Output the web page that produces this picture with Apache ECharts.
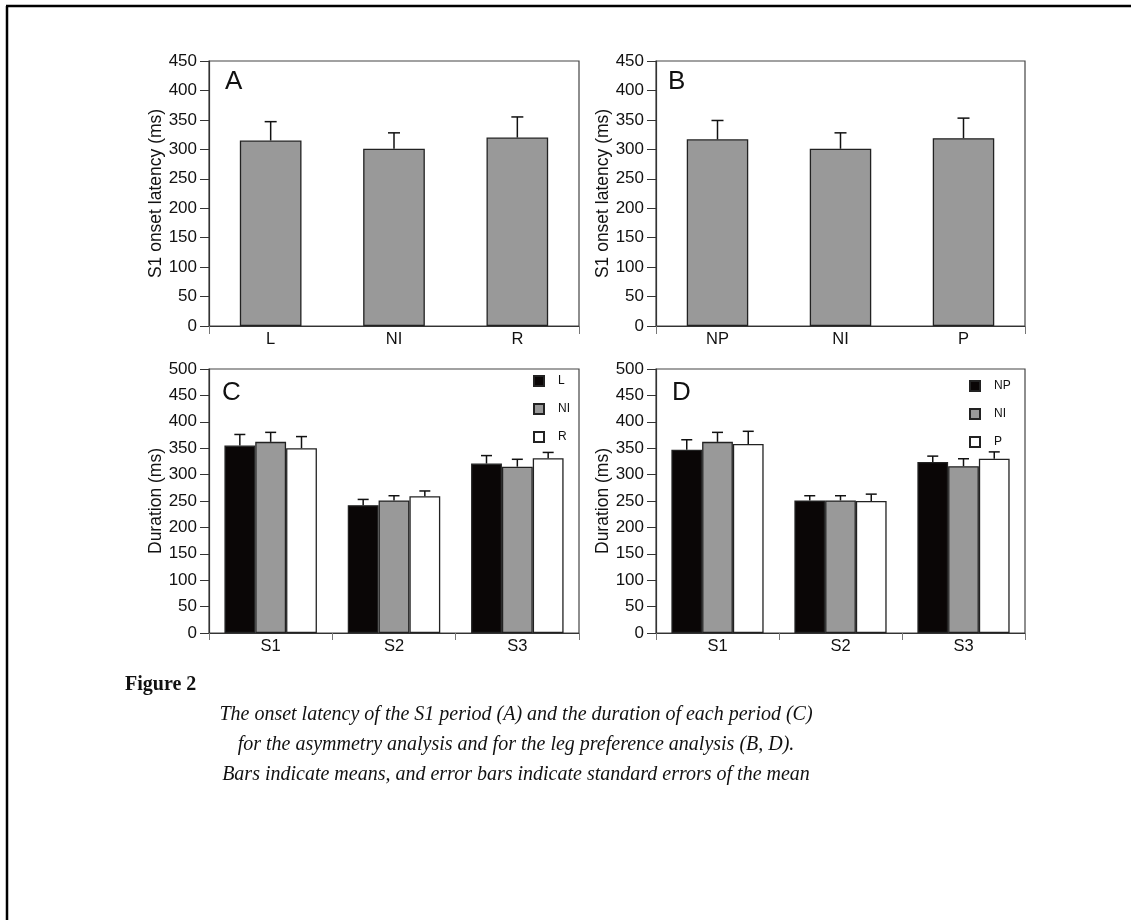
<!DOCTYPE html>
<html><head><meta charset="utf-8">
<script src="https://cdn.jsdelivr.net/npm/echarts@6/dist/echarts.min.js"></script>
<style>html,body{margin:0;padding:0;background:#fff;} #chart{width:1131px;height:920px;}</style>
</head><body><div id="chart"></div>
<script>
// ---- data ----
const catsA = ['L', 'NI', 'R'];
const meanA = [315, 301, 320];
const seA = [32, 27, 35];
const catsB = ['NP', 'NI', 'P'];
const meanB = [317, 301, 319];
const seB = [32, 27, 34];
const periods = ['S1', 'S2', 'S3'];
const groupsC = ['L', 'NI', 'R'];
const meanC_L = [355, 242, 321];
const meanC_NI = [362, 251, 315];
const meanC_R = [350, 259, 331];
const seC_L = [21, 11, 15];
const seC_NI = [18, 9, 14];
const seC_R = [22, 10, 11];
const groupsD = ['NP', 'NI', 'P'];
const meanD_NP = [347, 251, 324];
const meanD_NI = [362, 251, 316];
const meanD_P = [358, 250, 330];
const seD_NP = [19, 9, 11];
const seD_NI = [18, 9, 14];
const seD_P = [24, 13, 13];
const panelLetters = ['A', 'B', 'C', 'D'];
const yNameTop = 'S1 onset latency (ms)';
const yNameBottom = 'Duration (ms)';
const figTitle = 'Figure 2';
const captionLines = [
  'The onset latency of the S1 period (A) and the duration of each period (C)',
  'for the asymmetry analysis and for the leg preference analysis (B, D).',
  'Bars indicate means, and error bars indicate standard errors of the mean'
];

// ---- styles ----
const SANS = '"Liberation Sans", Arial, sans-serif';
const SERIF = '"Liberation Serif", "DejaVu Serif", serif';
const AX = '#333';
const BLACK = '#0a0606';
const GRAY = '#999999';
const WHITE = '#ffffff';
const BORDER = '#222';

const grids = [
  {left: 209, top: 61, width: 370, height: 265},
  {left: 656, top: 61, width: 369, height: 265},
  {left: 209, top: 369, width: 370, height: 264},
  {left: 656, top: 369, width: 369, height: 264}
].map(g => Object.assign({show: true, borderColor: '#444', borderWidth: 1.2, backgroundColor: 'transparent'}, g));

function catAxis(gi, data, ticks) {
  return {
    type: 'category', gridIndex: gi, data: data,
    axisLine: {show: true, lineStyle: {color: AX, width: 1.2}},
    axisTick: {show: ticks, length: 7, lineStyle: {color: '#777', width: 1}},
    axisLabel: {color: '#111', fontSize: 16.5, fontFamily: SANS, margin: 5},
    splitLine: {show: false}
  };
}
function endTickAxis(gi) {
  return {
    type: 'value', gridIndex: gi, min: 0, max: 1, interval: 1, position: 'bottom',
    axisLine: {show: false}, axisLabel: {show: false}, splitLine: {show: false},
    axisTick: {show: true, length: 8, lineStyle: {color: '#777', width: 1}}
  };
}
function valAxis(gi, max, name) {
  return {
    type: 'value', gridIndex: gi, min: 0, max: max, interval: 50,
    name: name, nameLocation: 'middle', nameGap: 44,
    nameTextStyle: {color: '#111', fontSize: 17.5, fontFamily: SANS},
    axisLine: {show: true, lineStyle: {color: AX, width: 1.2}},
    axisTick: {show: true, length: 9, lineStyle: {color: AX, width: 1}},
    axisLabel: {color: '#111', fontSize: 17, fontFamily: SANS, margin: 12},
    splitLine: {show: false}
  };
}

function barSeries(name, ax, data, color, catGap) {
  return {
    type: 'bar', name: name, xAxisIndex: ax, yAxisIndex: ax, data: data,
    barGap: '0%', barCategoryGap: catGap,
    itemStyle: {color: color, borderColor: BORDER, borderWidth: 1.3},
    emphasis: {disabled: true}, z: 2
  };
}
function errSeries(ax, means, ses, idx, n, frac, cap) {
  return {
    type: 'custom', name: 'err' + ax + '_' + idx, xAxisIndex: ax, yAxisIndex: ax, z: 3,
    data: means.map((m, i) => [i, m, ses[i]]),
    encode: {x: 0, y: 1},
    renderItem: function (params, api) {
      const i = api.value(0), m = api.value(1), s = api.value(2);
      const band = api.size([1, 0])[0];
      const bw = band * frac / n;
      const off = (idx - (n - 1) / 2) * bw;
      const p0 = api.coord([i, m]);
      const p1 = api.coord([i, m + s]);
      const x = p0[0] + off;
      const st = {stroke: '#111', lineWidth: 1.5};
      return {type: 'group', children: [
        {type: 'line', shape: {x1: x, y1: p0[1], x2: x, y2: p1[1]}, style: st},
        {type: 'line', shape: {x1: x - cap / 2, y1: p1[1], x2: x + cap / 2, y2: p1[1]}, style: st}
      ]};
    }
  };
}

const series = [
  barSeries('A', 0, meanA, GRAY, '50%'),
  errSeries(0, meanA, seA, 0, 1, 0.5, 12),
  barSeries('B', 1, meanB, GRAY, '50%'),
  errSeries(1, meanB, seB, 0, 1, 0.5, 12),
  barSeries(groupsC[0], 2, meanC_L, BLACK, '25%'),
  barSeries(groupsC[1], 2, meanC_NI, GRAY, '25%'),
  barSeries(groupsC[2], 2, meanC_R, WHITE, '25%'),
  errSeries(2, meanC_L, seC_L, 0, 3, 0.75, 11),
  errSeries(2, meanC_NI, seC_NI, 1, 3, 0.75, 11),
  errSeries(2, meanC_R, seC_R, 2, 3, 0.75, 11),
  barSeries(groupsD[0], 3, meanD_NP, BLACK, '25%'),
  barSeries(groupsD[1], 3, meanD_NI, GRAY, '25%'),
  barSeries(groupsD[2], 3, meanD_P, WHITE, '25%'),
  errSeries(3, meanD_NP, seD_NP, 0, 3, 0.75, 11),
  errSeries(3, meanD_NI, seD_NI, 1, 3, 0.75, 11),
  errSeries(3, meanD_P, seD_P, 2, 3, 0.75, 11)
];

function legendAt(names, left, top) {
  return {
    data: names, orient: 'vertical', left: left, top: top, padding: 0,
    itemWidth: 10, itemHeight: 10, itemGap: 16, selectedMode: false, icon: 'rect',
    textStyle: {color: '#111', fontSize: 12, fontFamily: SANS, lineHeight: 10, padding: [0, 0, 0, 9]}
  };
}

const letterPos = [[225, 82], [668, 82], [222, 393], [672, 393]];
const graphics = [];
panelLetters.forEach((t, i) => graphics.push({
  type: 'text', left: letterPos[i][0], top: letterPos[i][1] - 13,
  style: {text: t, fontSize: 26, fontFamily: SANS, fill: '#111'}
}));
graphics.push({type: 'text', left: 125, top: 675,
  style: {text: figTitle, fontSize: 20, fontWeight: 'bold', fontFamily: SERIF, fill: '#111'}});
const capY = [715, 745, 775];
captionLines.forEach((t, i) => graphics.push({
  type: 'text', x: 516, y: capY[i],
  style: {text: t, fontSize: 20, fontStyle: 'italic', fontFamily: SERIF, fill: '#111', align: 'center', verticalAlign: 'middle'}
}));
// outer figure frame (left and top edges)
graphics.push({type: 'line', shape: {x1: 7, y1: 6, x2: 7, y2: 920}, style: {stroke: '#000', lineWidth: 2.5}});
graphics.push({type: 'line', shape: {x1: 6, y1: 6, x2: 1131, y2: 6}, style: {stroke: '#000', lineWidth: 2.5}});

const option = {
  animation: false,
  backgroundColor: '#fff',
  grid: grids,
  xAxis: [
    catAxis(0, catsA, false), catAxis(1, catsB, false),
    catAxis(2, periods, true), catAxis(3, periods, true),
    endTickAxis(0), endTickAxis(1)
  ],
  yAxis: [
    valAxis(0, 450, yNameTop), valAxis(1, 450, yNameTop),
    valAxis(2, 500, yNameBottom), valAxis(3, 500, yNameBottom)
  ],
  legend: [legendAt(groupsC, 533, 375), legendAt(groupsD, 969, 380)],
  series: series,
  graphic: graphics
};
const chart = echarts.init(document.getElementById('chart'), null, {renderer: 'canvas'});
chart.setOption(option);
</script></body></html>
